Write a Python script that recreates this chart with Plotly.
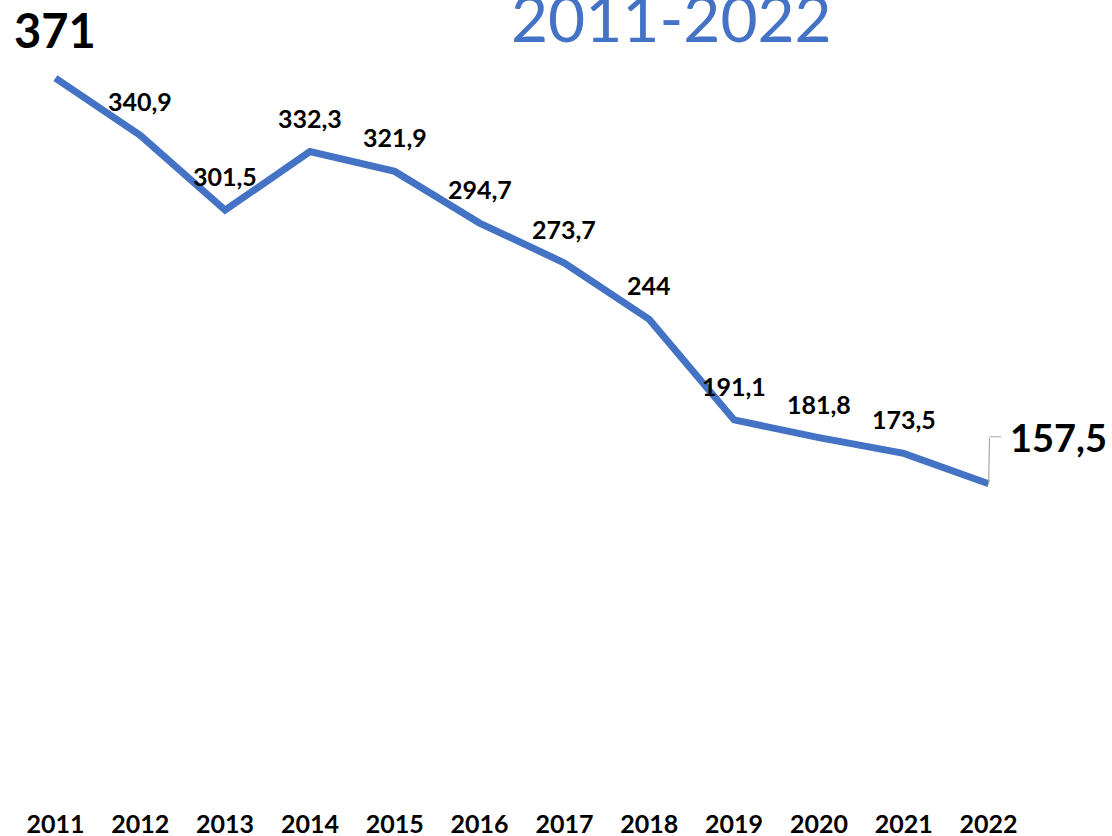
import plotly.graph_objects as go

years = ["2011", "2012", "2013", "2014", "2015", "2016",
         "2017", "2018", "2019", "2020", "2021", "2022"]
values = [371, 340.9, 301.5, 332.3, 321.9, 294.7,
          273.7, 244, 191.1, 181.8, 173.5, 157.5]
title_text = "2011-2022"

BLUE = "#4472C4"
FONT = "Lato"


def fmt(v):
    return f"{v:g}".replace(".", ",")


fig = go.Figure()
fig.add_trace(go.Scatter(
    x=years, y=values, mode="lines",
    line=dict(color=BLUE, width=7, shape="linear"),
    hoverinfo="skip", showlegend=False,
))

annotations = []
n = len(years)
for i, v in enumerate(values):
    if i == 0:
        annotations.append(dict(x=i, y=v, xref="x", yref="y", text=f"<b>{fmt(v)}</b>",
                                showarrow=False, yshift=48,
                                font=dict(family=FONT, size=47, color="black")))
    elif i == n - 1:
        annotations.append(dict(x=i, y=v, xref="x", yref="y", text=f"<b>{fmt(v)}</b>",
                                showarrow=False, xshift=70, yshift=47,
                                font=dict(family=FONT, size=38, color="black")))
        # leader line (vertical then horizontal)
        annotations.append(dict(x=i, y=v, xref="x", yref="y", text="",
                                showarrow=True, arrowhead=0, arrowwidth=1.2,
                                arrowcolor="#A6A6A6", ax=1, ay=-47, standoff=0))
        annotations.append(dict(x=i, y=v, xref="x", yref="y", text="",
                                showarrow=True, arrowhead=0, arrowwidth=1.2,
                                arrowcolor="#A6A6A6", ax=13, ay=0, xshift=1, yshift=47,
                                standoff=0))
    else:
        annotations.append(dict(x=i, y=v, xref="x", yref="y", text=f"<b>{fmt(v)}</b>",
                                showarrow=False, yshift=34,
                                font=dict(family=FONT, size=25, color="black")))

annotations.append(dict(x=0.647, y=1, xref="paper", yref="paper", text=title_text,
                        showarrow=False, xanchor="center", yanchor="top",
                        yshift=46,
                        font=dict(family=FONT, size=64, color=BLUE)))

fig.update_layout(
    width=1112, height=836,
    margin=dict(l=12.5, r=80.5, t=23, b=52.5, autoexpand=False),
    paper_bgcolor="white", plot_bgcolor="white",
    annotations=annotations,
    showlegend=False,
)
fig.update_xaxes(
    type="category", range=[-0.5, len(years) - 0.5],
    showgrid=False, zeroline=False, showline=False,
    ticks="", ticklabelstandoff=24,
    tickfont=dict(family=FONT, size=25, color="black", weight="bold"),
)
fig.update_yaxes(
    range=[0, 400], visible=False, showgrid=False, zeroline=False,
)

fig.write_html("out.html",
               config={"displayModeBar": False},
               post_script="document.body.style.margin='0';document.body.style.overflow='hidden';")
